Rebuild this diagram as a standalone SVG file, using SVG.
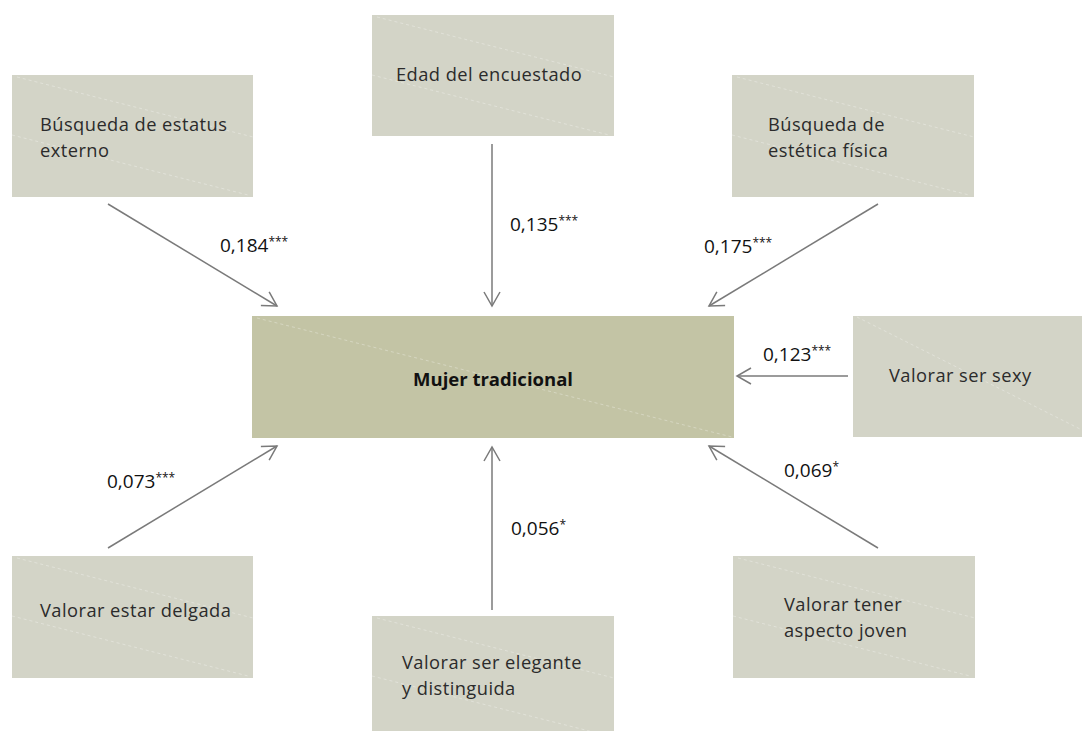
<svg xmlns="http://www.w3.org/2000/svg" width="1082" height="731" viewBox="0 0 1082 731">
  <style>
    .box { fill: #d3d4c7; }
    .core { fill: #c3c4a5; }
    .sheen { stroke: #ffffff; stroke-opacity: 0.3; stroke-width: 1; stroke-dasharray: 3 3; fill: none; }
    .lbl { font-family: "Open Sans", Lato, "Liberation Sans", sans-serif; font-size: 18.3px; letter-spacing: 0.45px; fill: #2b2b2b; }
    .title { font-family: "Open Sans", Lato, "Liberation Sans", sans-serif; font-size: 18.5px; font-weight: bold; fill: #111111; }
    .coef { font-family: "Open Sans", Lato, "Liberation Sans", sans-serif; font-size: 19px; fill: #111111; }
    .sig { font-size: 12px; }
    .edge { stroke: #7a7a7a; stroke-width: 1.5; fill: none; marker-end: url(#open); }
  </style>
  <defs>
    <marker id="open" viewBox="0 0 20 20" refX="18" refY="10" markerWidth="20" markerHeight="20" markerUnits="userSpaceOnUse" orient="auto">
      <path d="M4,2 L18,10 L4,18" fill="none" stroke="#7a7a7a" stroke-width="1.5"/>
    </marker>
  </defs>

  <rect width="1082" height="731" fill="#ffffff"/>

  <g id="connectors">
    <line class="edge" x1="108" y1="204" x2="277" y2="306"/>
    <line class="edge" x1="492" y1="144" x2="492" y2="306"/>
    <line class="edge" x1="878" y1="204" x2="709" y2="306"/>
    <line class="edge" x1="848" y1="376" x2="737" y2="376"/>
    <line class="edge" x1="108" y1="548" x2="277" y2="446"/>
    <line class="edge" x1="492" y1="610" x2="492" y2="447"/>
    <line class="edge" x1="878" y1="548" x2="709" y2="446"/>
  </g>

  <g id="coefficients">
    <text class="coef" x="220" y="252">0,184<tspan class="sig" dy="-6">***</tspan></text>
    <text class="coef" x="510" y="231">0,135<tspan class="sig" dy="-6">***</tspan></text>
    <text class="coef" x="704" y="253">0,175<tspan class="sig" dy="-6">***</tspan></text>
    <text class="coef" x="763" y="361">0,123<tspan class="sig" dy="-6">***</tspan></text>
    <text class="coef" x="107" y="488">0,073<tspan class="sig" dy="-6">***</tspan></text>
    <text class="coef" x="511" y="535">0,056<tspan class="sig" dy="-6">*</tspan></text>
    <text class="coef" x="784" y="477">0,069<tspan class="sig" dy="-6">*</tspan></text>
  </g>

  <g id="estatus">
    <rect class="box" x="12" y="75" width="241" height="122"/>
    <line class="sheen" x1="17" y1="77" x2="253" y2="137"/>
    <line class="sheen" x1="12" y1="135" x2="248" y2="195"/>
    <text class="lbl" x="40" y="131">Búsqueda de estatus</text>
    <text class="lbl" x="40" y="156.5">externo</text>
  </g>

  <g id="edad">
    <rect class="box" x="372" y="15" width="242" height="121"/>
    <line class="sheen" x1="377" y1="17" x2="614" y2="77"/>
    <line class="sheen" x1="372" y1="75" x2="609" y2="135"/>
    <text class="lbl" x="396" y="81">Edad del encuestado</text>
  </g>

  <g id="estetica">
    <rect class="box" x="732" y="75" width="242" height="122"/>
    <line class="sheen" x1="737" y1="77" x2="974" y2="137"/>
    <line class="sheen" x1="732" y1="135" x2="969" y2="195"/>
    <text class="lbl" x="768" y="131">Búsqueda de</text>
    <text class="lbl" x="768" y="156.5">estética física</text>
  </g>

  <g id="mujer-tradicional">
    <rect class="core" x="252" y="316" width="482" height="122"/>
    <line class="sheen" x1="257" y1="318" x2="732" y2="437"/>
    <text class="title" x="493" y="386" text-anchor="middle">Mujer tradicional</text>
  </g>

  <g id="sexy">
    <rect class="box" x="853" y="316" width="229" height="121"/>
    <line class="sheen" x1="857" y1="317" x2="1082" y2="430"/>
    <text class="lbl" x="889" y="382">Valorar ser sexy</text>
  </g>

  <g id="delgada">
    <rect class="box" x="12" y="556" width="241" height="122"/>
    <line class="sheen" x1="17" y1="558" x2="253" y2="618"/>
    <line class="sheen" x1="12" y1="616" x2="248" y2="676"/>
    <text class="lbl" x="40" y="617">Valorar estar delgada</text>
  </g>

  <g id="elegante">
    <rect class="box" x="372" y="616" width="242" height="122"/>
    <line class="sheen" x1="377" y1="618" x2="614" y2="678"/>
    <line class="sheen" x1="372" y1="676" x2="609" y2="736"/>
    <text class="lbl" x="402" y="669">Valorar ser elegante</text>
    <text class="lbl" x="402" y="695">y distinguida</text>
  </g>

  <g id="joven">
    <rect class="box" x="733" y="556" width="242" height="122"/>
    <line class="sheen" x1="738" y1="558" x2="975" y2="618"/>
    <line class="sheen" x1="733" y1="616" x2="970" y2="676"/>
    <text class="lbl" x="784" y="611">Valorar tener</text>
    <text class="lbl" x="784" y="636.5">aspecto joven</text>
  </g>
</svg>
